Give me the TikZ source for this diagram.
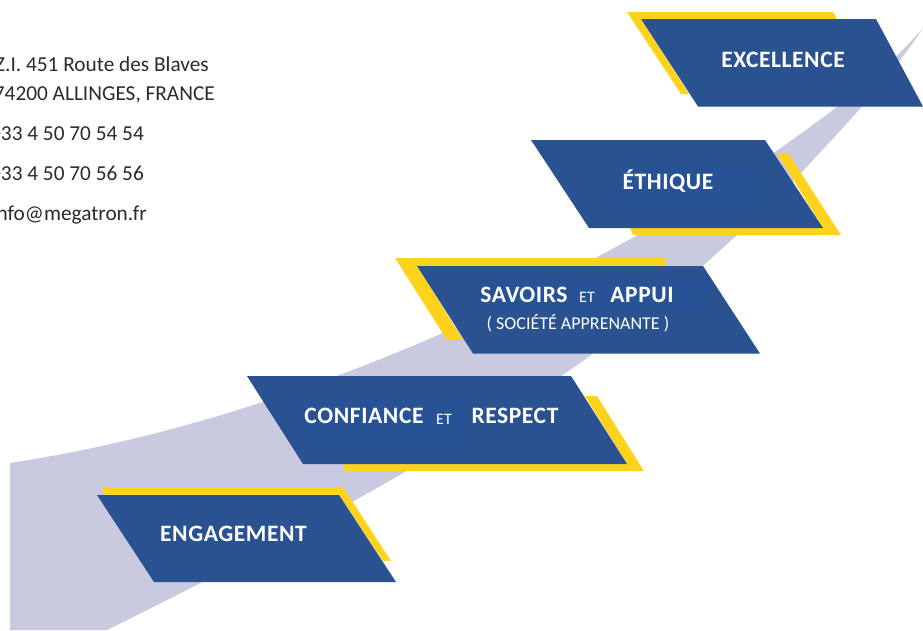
\documentclass[tikz,border=0pt]{standalone}
\usepackage{fontspec}
\setmainfont{Carlito}
\newfontfamily\titlefont[LetterSpace=2.5]{Carlito Bold}
\definecolor{bluebox}{HTML}{2A5291}
\definecolor{bluepatch}{HTML}{275396}
\definecolor{yellowbar}{HTML}{FFD31C}
\definecolor{band}{HTML}{C9C9E0}
\definecolor{addr}{HTML}{2B2B2B}
\tikzset{
  boxshape/.style={fill=bluebox},
  barshape/.style={fill=yellowbar},
  patchshape/.style={fill=bluepatch},
  title/.style={anchor=base,text=white,inner sep=0pt,font=\titlefont\fontsize{23.5}{26}\selectfont},
  small/.style={anchor=base,text=white,inner sep=0pt,font=\fontsize{16}{18}\selectfont},
  sub/.style={anchor=base,text=white,inner sep=0pt,font=\fontsize{18}{20}\selectfont},
  addrline/.style={anchor=base east,text=addr,inner sep=0pt,font=\fontsize{21.3}{24}\selectfont}
}
\begin{document}
\begin{tikzpicture}[x=1pt,y=-1pt]
\useasboundingbox (0,0) rectangle (923,630);
\clip (0,0) rectangle (923,630);
\fill[white] (0,0) rectangle (923,630);
% swoosh
\fill[band] (10,463)
  .. controls (160,440) and (300,395) .. (443,333)
  .. controls (560,280) and (680,215) .. (775,152)
  .. controls (835,110) and (885,72) .. (923,28)
  .. controls (885,85) and (845,125) .. (802,172)
  .. controls (730,245) and (650,315) .. (567,372)
  .. controls (460,445) and (280,545) .. (107,630)
  -- (10,630) -- cycle;
% EXCELLENCE
\fill[barshape] (627,12) -- (833,12) -- (837,19) -- (641,19) -- (689,94) -- (681,94) -- cycle;
\fill[boxshape] (641,19) -- (876,19) -- (923,106.5) -- (698,106.5) -- cycle;
% ETHIQUE
\fill[barshape] (777,153) -- (788,153) -- (841,235) -- (633,235) -- (630,228) -- (823,228) -- cycle;
\fill[boxshape] (531,140) -- (765,140) -- (823,228) -- (589,228) -- cycle;
\fill[patchshape] (622,168) rectangle (757,210);
% SAVOIRS
\fill[barshape] (395,258) -- (664,258) -- (667,266) -- (417,266) -- (463,340) -- (447,340) -- cycle;
\fill[boxshape] (417,266) -- (703,266) -- (760,353.5) -- (473,353.5) -- cycle;
\fill[patchshape] (490,280) rectangle (710,308);
% CONFIANCE
\fill[barshape] (585,396) -- (597,396) -- (644,471) -- (345,471) -- (343,464) -- (627,464) -- cycle;
\fill[boxshape] (247,376) -- (571,376) -- (627,464) -- (303,464) -- cycle;
\fill[patchshape] (303,400) -- (463,400) -- (463,447) -- (303,447) -- cycle;
% ENGAGEMENT
\fill[barshape] (101,487) -- (343,487) -- (391,561) -- (383,561) -- (339,495) -- (105,495) -- cycle;
\fill[boxshape] (97,495) -- (339,495) -- (396,582) -- (154,582) -- cycle;
% labels
\node[title] (excellence) at (783,67) {EXCELLENCE};
\node[title] (ethique) at (668,189) {ÉTHIQUE};
\node[title] (savoirs) at (524,302) {SAVOIRS};
\node[small] (et1) at (587,302) {ET};
\node[title] (appui) at (642,302) {APPUI};
\node[sub] (societe) at (578,329) {( SOCIÉTÉ APPRENANTE )};
\node[title] (confiance) at (364,423) {CONFIANCE};
\node[small] (et2) at (444,424) {ET};
\node[title] (respect) at (515,423) {RESPECT};
\node[title] (engagement) at (233.5,541) {ENGAGEMENT};
% address
\node[addrline] (a1) at (209,71) {Z.I. 451 Route des Blaves};
\node[addrline] (a2) at (215,100) {74200 ALLINGES, FRANCE};
\node[addrline] (a3) at (144,140) {+33 4 50 70 54 54};
\node[addrline] (a4) at (144,180) {+33 4 50 70 56 56};
\node[addrline] (a5) at (147,220) {info@megatron.fr};
\end{tikzpicture}
\end{document}
